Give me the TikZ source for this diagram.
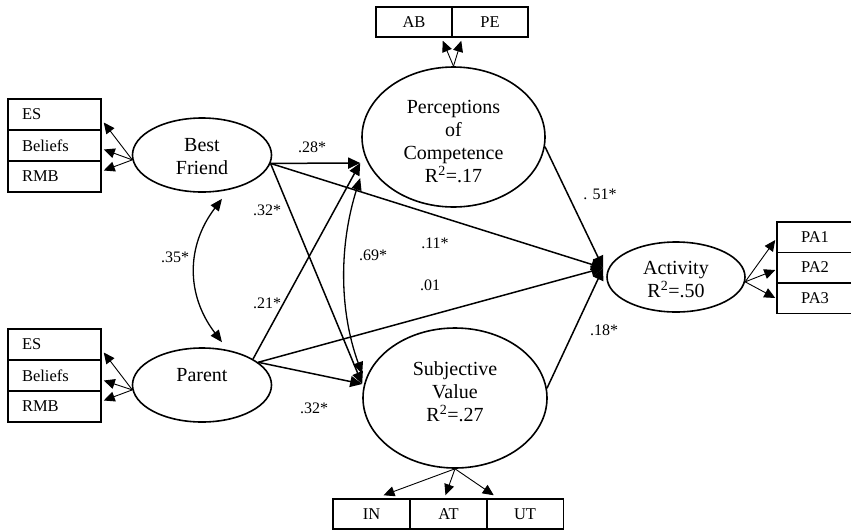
\documentclass[tikz,border=0pt]{standalone}
\usepackage{fontspec}
\setmainfont{Liberation Serif}
\usetikzlibrary{shapes.geometric,arrows.meta}
\begin{document}
\begin{tikzpicture}[x=1pt,y=1pt,
 lat/.style={ellipse,draw,line width=1.6pt,inner sep=0pt},
 lattext/.style={align=center,font=\fontsize{20}{23}\selectfont,inner sep=0pt},
 ind/.style={rectangle,draw,line width=1.5pt,minimum height=31pt,inner ysep=0pt,font=\fontsize{16.5}{18}\selectfont},
 lbox/.style={ind,text width=65pt,inner xsep=14pt,align=left},
 cbox/.style={ind,minimum width=77pt,inner xsep=0pt},
 pth/.style={line width=1.5pt,-{Triangle[length=12pt,width=11pt]}},
 cov/.style={line width=1.3pt,{Triangle[length=12pt,width=10pt]}-{Triangle[length=12pt,width=10pt]}},
 load/.style={line width=0.9pt,-{Triangle[length=11pt,width=10pt]}},
 coef/.style={font=\fontsize{16}{18}\selectfont,inner sep=0pt}]
\useasboundingbox (0,0) rectangle (851,-531);
\clip (0,0) rectangle (851,-531);
% latent variables
\node[lat,minimum width=139pt,minimum height=74pt] (bf) at (202,-155) {};
\node[lattext] (bfT) at (202,-157) {Best\\Friend};
\node[lat,minimum width=139pt,minimum height=74pt] (par) at (202,-385) {};
\node[lattext] (parT) at (202,-375) {Parent};
\node[lat,minimum width=183pt,minimum height=140pt] (pc) at (453.5,-137) {};
\node[lattext] (pcT) at (453.5,-142) {Perceptions\\of\\Competence\\R\textsuperscript{2}=.17};
\node[lat,minimum width=184pt,minimum height=140pt] (sv) at (455,-398) {};
\node[lattext] (svT) at (455,-392) {Subjective\\Value\\R\textsuperscript{2}=.27};
\node[lat,minimum width=138pt,minimum height=70pt] (act) at (676,-277) {};
\node[lattext] (actT) at (676,-280) {Activity\\R\textsuperscript{2}=.50};
% indicator boxes
\node[lbox] (bfES) at (54.5,-114.5) {ES};
\node[lbox] (bfBel) at (54.5,-145.5) {Beliefs};
\node[lbox] (bfRMB) at (54.5,-176.5) {RMB};
\node[lbox] (parES) at (54.5,-344.5) {ES};
\node[lbox] (parBel) at (54.5,-375.5) {Beliefs};
\node[lbox] (parRMB) at (54.5,-406.5) {RMB};
\node[cbox,minimum width=76pt,minimum height=30pt] (ab) at (414,-22) {AB};
\node[cbox,minimum width=76pt,minimum height=30pt] (pe) at (490,-22) {PE};
\node[cbox,minimum height=30pt] (inB) at (371.5,-514) {IN};
\node[cbox,minimum height=30pt] (atB) at (448.5,-514) {AT};
\node[cbox,minimum height=30pt] (utB) at (525,-514) {UT};
\node[cbox,minimum width=76pt,minimum height=30.5pt] (pa1) at (815,-237) {PA1};
\node[cbox,minimum width=76pt,minimum height=30.5pt] (pa2) at (815,-267.5) {PA2};
\node[cbox,minimum width=76pt,minimum height=30.5pt] (pa3) at (815,-298) {PA3};
% arrow targets
\coordinate (pcIn) at ([xshift=-1pt,yshift=-26pt]pc.west);
\coordinate (pcCov) at ([xshift=-1pt,yshift=-41pt]pc.west);
\coordinate (svCov) at ([yshift=24pt]sv.west);
\coordinate (svIn) at ([yshift=14pt]sv.west);
\coordinate (actIn) at ([xshift=-3pt,yshift=9pt]act.west);
\coordinate (bfCov) at ([xshift=20pt,yshift=-6pt]bf.south);
\coordinate (parCov) at ([xshift=20pt,yshift=5pt]par.north);
% structural paths
\draw[pth] (bf.-7) -- (pcIn);
\draw[pth] (bf.-7) -- (actIn);
\draw[pth] (bf.-7) -- (svIn);
\draw[pth] (par.27) -- (pcIn);
\draw[pth] (par.22) -- (actIn);
\draw[pth] (par.22) -- (svIn);
\draw[pth] (pc.-6) -- (actIn);
\draw[pth] (sv.6) -- (actIn);
\draw[cov] (bfCov) .. controls (186,-246) and (186,-295) .. (parCov);
\draw[cov] (pcCov) .. controls (339,-245) and (339,-310) .. (svCov);
% loadings
\draw[load] (bf.184) -- ([xshift=2pt,yshift=-8pt]bfES.east);
\draw[load] (bf.184) -- ([xshift=2pt,yshift=-4pt]bfBel.east);
\draw[load] (bf.184) -- ([xshift=2pt,yshift=6pt]bfRMB.east);
\draw[load] (par.184) -- ([xshift=2pt,yshift=-8pt]parES.east);
\draw[load] (par.184) -- ([xshift=2pt,yshift=-5pt]parBel.east);
\draw[load] (par.184) -- ([xshift=2pt,yshift=6pt]parRMB.east);
\draw[load] (pc.90) -- ([xshift=-10pt,yshift=-3pt]ab.south east);
\draw[load] (pc.90) -- ([xshift=10pt,yshift=-3pt]pe.south west);
\draw[load] (sv.-90) -- ([xshift=12pt,yshift=3pt]inB.north);
\draw[load] (sv.-90) -- ([xshift=-3pt,yshift=3pt]atB.north);
\draw[load] (sv.-90) -- ([xshift=8pt,yshift=3pt]utB.north west);
\draw[load] (act.-4) -- ([xshift=-1pt,yshift=-3pt]pa1.west);
\draw[load] (act.-4) -- ([xshift=-1pt,yshift=-2.5pt]pa2.west);
\draw[load] (act.-4) -- ([xshift=-1pt]pa3.west);
% coefficients
\node[coef] (l28) at (312,-147) {.28*};
\node[coef] (l32a) at (267,-210) {.32*};
\node[coef] (l11) at (435,-243) {.11*};
\node[coef] (l69) at (373,-255) {.69*};
\node[coef] (l01) at (430,-285) {.01};
\node[coef] (l21) at (267,-303) {.21*};
\node[coef] (l32b) at (314,-408) {.32*};
\node[coef] (l35) at (175,-257) {.35*};
\node[coef] (l51) at (600,-194) {. 51*};
\node[coef] (l18) at (604,-330) {.18*};
\end{tikzpicture}
\end{document}
